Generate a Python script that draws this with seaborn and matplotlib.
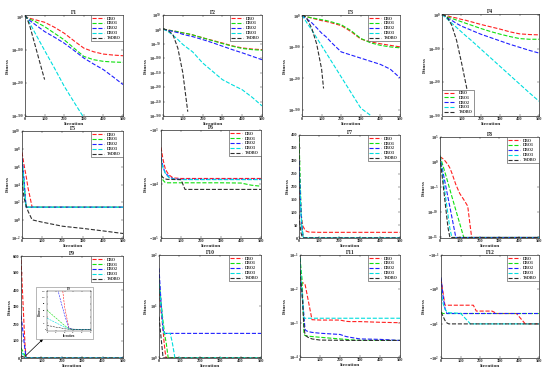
"""
Convergence curves of DBO variants on twelve benchmark functions (F1-F12).
Saves out.png (550x378).
"""

import numpy as np
import matplotlib
matplotlib.use("Agg")
import matplotlib.pyplot as plt
import seaborn as sns
from matplotlib.patches import Rectangle

W, H = 550, 378
ALGOS  = ["DBO", "DBO1", "DBO2", "DBO3", "TSDBO"]
COLORS = ["#ff2020", "#10e010", "#2020ff", "#00dede", "#303030"]
N = None

# ── Data ─────────────────────────────────────────────────────────────────────
F1_X     = [0, 10, 25, 50, 75, 100, 150, 200, 250, 300, 350, 400, 450, 500]
F1_DBO   = [1e4, 1e-2, 1e-5, 1e-9, 1e-13, 1e-17, 1e-32, 1e-50, 1e-73, 1e-95, 1e-106, 1e-113, 1e-116, 1e-118]
F1_DBO1  = [1e4, 1e-3, 1e-8, 1e-14, 1e-22, 1e-30, 1e-50, 1e-70, 1e-95, 1e-120, 1e-130, 1e-135, 1e-137, 1e-138]
F1_DBO2  = [1e4, 1e-4, 1e-12, 1e-23, 1e-34, 1e-45, 1e-62, 1e-80, 1e-102, 1e-125, 1e-143, 1e-160, 1e-182, 1e-205]
F1_DBO3  = [1e4, 1e-6, 1e-20, 1e-48, 1e-75, 1e-102, 1e-155, 1e-210, 1e-258, 1e-305, N, N, N, N]
F1_TSDBO = [1e4, 1e-5, 1e-29, 1e-83, 1e-137, 1e-190, N, N, N, N, N, N, N, N]

F2_X     = [0, 10, 25, 50, 75, 100, 125, 150, 200, 250, 300, 350, 400, 450, 500]
F2_DBO   = [1e2, 1e0, 1e-2, 1e-5, 1e-8, 1e-12, 1e-15, 1e-19, 1e-29, 1e-38, 1e-47, 1e-57, 1e-64, 1e-68, 1e-70]
F2_DBO1  = [1e2, 1e0, 1e-2, 1e-5, 1e-8, 1e-12, 1e-15, 1e-19, 1e-29, 1e-39, 1e-49, 1e-58, 1e-66, 1e-70, 1e-72]
F2_DBO2  = [1e2, 1e-1, 1e-3, 1e-7, 1e-11, 1e-17, 1e-21, 1e-25, 1e-35, 1e-46, 1e-58, 1e-70, 1e-81, 1e-93, 1e-105]
F2_DBO3  = [1e2, 1e-2, 1e-7, 1e-20, 1e-35, 1e-52, 1e-65, 1e-78, 1e-116, 1e-145, 1e-174, 1e-192, 1e-209, 1e-235, 1e-265]
F2_TSDBO = [1e2, 1e0, 1e-3, 1e-18, 1e-65, 1e-150, 1e-285, N, N, N, N, N, N, N, N]

F3_X     = [0, 10, 25, 50, 75, 100, 110, 125, 150, 200, 250, 300, 350, 400, 450, 500]
F3_DBO   = [1e3, 1e0, 1e-3, 1e-7, 1e-11, 1e-15, 1e-16, 1e-18, 1e-22, 1e-31, 1e-50, 1e-74, 1e-83, 1e-89, 1e-94, 1e-99]
F3_DBO1  = [1e3, 1e0, 1e-3, 1e-6, 1e-9, 1e-12, 1e-13, 1e-15, 1e-19, 1e-28, 1e-47, 1e-72, 1e-86, 1e-94, 1e-99, 1e-102]
F3_DBO2  = [1e3, 1e-3, 1e-10, 1e-22, 1e-38, 1e-55, 1e-60, 1e-68, 1e-85, 1e-115, 1e-125, 1e-135, 1e-145, 1e-155, 1e-170, 1e-198]
F3_DBO3  = [1e3, 1e-7, 1e-22, 1e-45, 1e-70, 1e-95, 1e-105, 1e-120, 1e-145, 1e-195, 1e-245, 1e-295, 1e-318, N, N, N]
F3_TSDBO = [1e3, 1e1, 1e-8, 1e-40, 1e-90, 1e-170, 1e-232, N, N, N, N, N, N, N, N, N]

F4_X     = [0, 25, 50, 75, 100, 125, 130, 150, 200, 250, 300, 350, 400, 450, 500]
F4_DBO   = [1e2, 1e-2, 1e-6, 1e-9, 1e-13, 1e-16, 1e-17, 1e-20, 1e-28, 1e-35, 1e-42, 1e-50, 1e-56, 1e-58, 1e-59]
F4_DBO1  = [1e2, 1e-5, 1e-10, 1e-15, 1e-20, 1e-25, 1e-26, 1e-30, 1e-40, 1e-49, 1e-57, 1e-64, 1e-70, 1e-72, 1e-72]
F4_DBO2  = [1e2, 1e-8, 1e-16, 1e-25, 1e-33, 1e-39, 1e-40, 1e-45, 1e-57, 1e-67, 1e-77, 1e-87, 1e-96, 1e-105, 1e-113]
F4_DBO3  = [1e2, 1e-11, 1e-24, 1e-37, 1e-50, 1e-63, 1e-65, 1e-75, 1e-101, 1e-127, 1e-153, 1e-179, 1e-205, 1e-231, 1e-256]
F4_TSDBO = [1e2, 1e-5, 1e-30, 1e-75, 1e-140, 1e-210, 1e-225, N, N, N, N, N, N, N, N]

F5_X     = [0, 10, 20, 30, 50, 75, 100, 200, 300, 400, 500]
F5_DBO   = [4e7, 1.6e6, 1e5, 4e3, 30, 28.9, 28.8, 28.7, 28.7, 28.6, 28.5]
F5_DBO1  = [3e6, 1e4, 29.5, 28.9, 28.9, 28.8, 28.8, 28.7, 28.7, 28.7, 28.6]
F5_DBO2  = [8e6, 5e4, 30, 28.9, 28.9, 28.9, 28.8, 28.8, 28.7, 28.7, 28.7]
F5_DBO3  = [5e6, 2e4, 30, 28.9, 28.9, 28.9, 28.8, 28.8, 28.7, 28.7, 28.7]
F5_TSDBO = [2.5e4, 3e2, 50, 10, 1.1, 0.8, 0.6, 0.21, 0.12, 0.063, 0.032]

F6_X     = [0, 10, 20, 30, 40, 60, 100, 120, 200, 300, 400, 450, 500]
F6_DBO   = [-2100, -3500, -5000, -6000, -6800, -7700, -7900, -7900, -7900, -7900, -7900, -7900, -7900]
F6_DBO1  = [-6450, -8500, -9300, -9500, -9500, -9500, -9500, -9500, -9500, -9500, -9600, -10500, -11000]
F6_DBO2  = [-3200, -4800, -6000, -6700, -7300, -8000, -8200, -8200, -8200, -8200, -8200, -8200, -8200]
F6_DBO3  = [-3400, -5000, -6200, -7000, -7600, -8100, -8300, -8300, -8300, -8300, -8300, -8300, -8300]
F6_TSDBO = [-6900, -7600, -8000, -8200, -8200, -8250, -8300, -12600, -12600, -12600, -12600, -12600, -12600]

F7_X     = [0, 5, 10, 15, 20, 25, 30, 40, 50, 100, 500]
F7_DBO   = [230, 160, 100, 60, 45, 38, 30, 25, 23, 22, 22]
F7_DBO1  = [390, 250, 120, 40, 10, 2, 1, 0.5, 0.4, 0.3, 0.2]
F7_DBO2  = [300, 200, 100, 40, 5, 1, 0.5, 0.4, 0.3, 0.2, 0.1]
F7_DBO3  = [260, 180, 90, 30, 5, 1, 0.5, 0.4, 0.3, 0.2, 0.1]
F7_TSDBO = [90, 50, 20, 6, 2, 0.5, 0.3, 0.2, 0.1, 0.1, 0.05]

F8_X     = [0, 10, 20, 30, 40, 50, 60, 80, 100, 120, 140, 150, 160, 500]
F8_DBO   = [12.6, 6.3, 3.2, 1.0, 0.32, 0.063, 6.3e-3, 3.2e-5, 5e-7, 3.2e-8, 1.6e-9, 1e-12, 8.88e-16, 8.88e-16]
F8_DBO1  = [20, 0.8, 0.04, 2e-3, 8e-5, 3.2e-6, 1.3e-7, 2.5e-10, 5e-13, 8.88e-16, 8.88e-16, 8.88e-16, 8.88e-16, 8.88e-16]
F8_DBO2  = [12.6, 0.1, 1e-3, 1e-5, 1e-7, 1e-9, 1e-11, 8.88e-16, 8.88e-16, 8.88e-16, 8.88e-16, 8.88e-16, 8.88e-16, 8.88e-16]
F8_DBO3  = [16, 0.02, 2.5e-5, 3.2e-8, 4e-11, 5e-14, 8.88e-16, 8.88e-16, 8.88e-16, 8.88e-16, 8.88e-16, 8.88e-16, 8.88e-16, 8.88e-16]
F8_TSDBO = [10, 3.2e-3, 1e-6, 3.2e-10, 1e-13, 8.88e-16, 8.88e-16, 8.88e-16, 8.88e-16, 8.88e-16, 8.88e-16, 8.88e-16, 8.88e-16, 8.88e-16]

F9_X     = [0, 5, 10, 15, 20, 25, 30, 40, 60, 100, 500]
F9_DBO   = [577, 450, 320, 190, 70, 3, 0.5, 0.2, 0.1, 0.05, 0]
F9_DBO1  = [60, 48, 36, 24, 12, 2, 0.5, 0.2, 0.1, 0.05, 0]
F9_DBO2  = [249, 200, 150, 95, 45, 3, 0.5, 0.2, 0.1, 0.05, 0]
F9_DBO3  = [35, 28, 21, 14, 7, 1, 0.5, 0.2, 0.1, 0.05, 0]
F9_TSDBO = [12, 10, 7, 5, 2, 0.5, 0.3, 0.2, 0.1, 0.05, 0]

F10_X     = [0, 10, 20, 25, 30, 35, 45, 55, 65, 78, 500]
F10_DBO   = [25, 8, 3.5, 2, 1.3, 0.998, 0.998, 0.998, 0.998, 0.998, 0.998]
F10_DBO1  = [35, 12, 5, 3.5, 2.5, 2, 0.998, 0.998, 0.998, 0.998, 0.998]
F10_DBO2  = [55, 12, 3.5, 2.982, 2.982, 2.982, 2.982, 2.982, 2.982, 2.982, 2.982]
F10_DBO3  = [27, 10, 4, 2.982, 2.982, 2.982, 2.982, 2.982, 2.0, 0.998, 0.998]
F10_TSDBO = [6.3, 2.5, 0.998, 0.998, 0.998, 0.998, 0.998, 0.998, 0.998, 0.998, 0.998]

F11_X     = [0, 10, 20, 25, 30, 40, 60, 100, 200, 230, 250, 300, 400, 500]
F11_DBO   = [1.6e-2, 1.5e-2, 1.5e-2, 1.4e-2, 1.0e-2, 5e-3, 1.25e-3, 1.22e-3, 1.22e-3, 1.12e-3, 1.1e-3, 1.1e-3, 1.05e-3, 1.02e-3]
F11_DBO1  = [8e-2, 2e-2, 4.6e-4, 4.3e-4, 4.2e-4, 4.1e-4, 4.0e-4, 3.8e-4, 3.4e-4, 3.3e-4, 3.2e-4, 3.1e-4, 3.08e-4, 3.07e-4]
F11_DBO2  = [1.6e-2, 8e-3, 1.5e-3, 6.5e-4, 6.0e-4, 5.6e-4, 5.3e-4, 5.0e-4, 4.6e-4, 4.0e-4, 3.8e-4, 3.4e-4, 3.3e-4, 3.07e-4]
F11_DBO3  = [8.4e-2, 7.4e-3, 1.38e-3, 1.38e-3, 1.38e-3, 1.38e-3, 1.38e-3, 1.38e-3, 1.38e-3, 1.38e-3, 1.38e-3, 1.38e-3, 1.38e-3, 1.38e-3]
F11_TSDBO = [3.4e-2, 8e-3, 8e-4, 4.5e-4, 4.2e-4, 3.8e-4, 3.4e-4, 3.15e-4, 3.1e-4, 3.08e-4, 3.08e-4, 3.07e-4, 3.07e-4, 3.07e-4]

F12_X     = [0, 10, 20, 30, 40, 100, 150, 165, 180, 260, 285, 385, 430, 500]
F12_DBO   = [-0.5, -1.2, -2.9, -2.9, -2.9, -2.9, -2.9, -2.9, -4.3, -4.3, -5.06, -5.06, -10.15, -10.15]
F12_DBO1  = [-4.6, -5.06, -5.06, -5.06, -5.06, -5.06, -5.06, -5.06, -5.06, -5.06, -5.06, -5.06, -5.06, -5.06]
F12_DBO2  = [-0.45, -1.5, -3.5, -5.06, -5.06, -5.06, -5.06, -5.06, -5.06, -5.06, -5.06, -5.06, -5.06, -5.06]
F12_DBO3  = [-1.1, -2.5, -3.8, -4.5, -4.8, -5.0, -10.15, -10.15, -10.15, -10.15, -10.15, -10.15, -10.15, -10.15]
F12_TSDBO = [-4.6, -6.0, -8.0, -9.5, -10.15, -10.15, -10.15, -10.15, -10.15, -10.15, -10.15, -10.15, -10.15, -10.15]

# panel: name, x, series, y scale, ylim, yticks, legend loc
PANELS = [
    ("F1", F1_X, [F1_DBO, F1_DBO1, F1_DBO2, F1_DBO3, F1_TSDBO], "log", (1e-300, 1e5), [1e0, 1e-100, 1e-200, 1e-300], "upper right"),
    ("F2", F2_X, [F2_DBO, F2_DBO1, F2_DBO2, F2_DBO3, F2_TSDBO], "log", (1e-300, 1e50),
     [1e50, 1e0, 1e-50, 1e-100, 1e-150, 1e-200, 1e-250, 1e-300], "upper right"),
    ("F3", F3_X, [F3_DBO, F3_DBO1, F3_DBO2, F3_DBO3, F3_TSDBO], "log", (1e-320, 1e3), [1e0, 1e-100, 1e-200, 1e-300], "upper right"),
    ("F4", F4_X, [F4_DBO, F4_DBO1, F4_DBO2, F4_DBO3, F4_TSDBO], "log", (1e-300, 1e3), [1e0, 1e-100, 1e-200, 1e-300], "lower left"),
    ("F5", F5_X, [F5_DBO, F5_DBO1, F5_DBO2, F5_DBO3, F5_TSDBO], "log", (1e-2, 1e10), [1e-2, 1e0, 1e2, 1e4, 1e6, 1e8, 1e10], "upper right"),
    ("F6", F6_X, [F6_DBO, F6_DBO1, F6_DBO2, F6_DBO3, F6_TSDBO], "symlog", (-1e5, -1e3), [-1e5, -1e4, -1e3], "upper right"),
    ("F7", F7_X, [F7_DBO, F7_DBO1, F7_DBO2, F7_DBO3, F7_TSDBO], "linear", (0, 400), list(range(0, 401, 50)), "upper right"),
    ("F8", F8_X, [F8_DBO, F8_DBO1, F8_DBO2, F8_DBO3, F8_TSDBO], "log", (7e-16, 1e5), [1e-15, 1e-10, 1e-5, 1e0, 1e5], "upper right"),
    ("F9", F9_X, [F9_DBO, F9_DBO1, F9_DBO2, F9_DBO3, F9_TSDBO], "linear", (0, 600), list(range(0, 601, 100)), "upper right"),
    ("F10", F10_X, [F10_DBO, F10_DBO1, F10_DBO2, F10_DBO3, F10_TSDBO], "log", (0.99, 1e2), [1e0, 1e1, 1e2], "upper right"),
    ("F11", F11_X, [F11_DBO, F11_DBO1, F11_DBO2, F11_DBO3, F11_TSDBO], "log", (1e-4, 1e-1), [1e-4, 1e-3, 1e-2, 1e-1], "upper right"),
    ("F12", F12_X, [F12_DBO, F12_DBO1, F12_DBO2, F12_DBO3, F12_TSDBO], "symlog", (-1e2, -1e-1), [-1e2, -1e1, -1e0, -1e-1], "upper right"),
]

# axes boxes in pixels: left, top, right, bottom
RECTS = [
    (25, 15, 123, 116), (163, 15, 262, 116), (302, 15, 400, 116), (442, 14, 539, 116),
    (22, 131, 123, 238), (161, 130, 261, 238), (299, 135, 400, 238), (440, 137, 539, 238),
    (21, 256, 123, 358), (159, 255, 261, 358), (300, 255, 400, 357), (441, 255, 539, 358),
]

sns.set_theme(style="ticks")
plt.rcParams.update({
    "font.family": ["Liberation Serif", "DejaVu Serif"],
    "font.weight": "bold",
    "axes.labelweight": "bold",
    "axes.titleweight": "bold",
    "mathtext.fontset": "custom",
    "mathtext.rm": "Liberation Serif:bold",
    "mathtext.bf": "Liberation Serif:bold",
    "mathtext.it": "Liberation Serif:italic:bold",
    "xtick.direction": "in",
    "ytick.direction": "in",
    "axes.edgecolor": "#262626",
    "axes.linewidth": 0.5,
})


def tick_label(t, scale):
    if scale == "log":
        return r"$10^{%d}$" % int(round(np.log10(t)))
    if scale == "symlog":
        return r"$-10^{%d}$" % int(round(np.log10(-t)))
    return f"{t:g}"


def draw_panel(ax, name, x, series, scale, ylim, yticks, loc, small=False):
    xs = np.array(x, dtype=float)
    for algo, col, ys in zip(ALGOS, COLORS, series):
        ys = np.array(ys, dtype=float)
        ok = ~np.isnan(ys)
        sns.lineplot(x=xs[ok], y=ys[ok], ax=ax, color=col, linestyle="--",
                     linewidth=0.4 if small else 0.8, estimator=None, sort=False,
                     label=None if small else algo)
    if scale == "symlog":
        ax.set_yscale("symlog", linthresh=1e-3)
    elif scale == "log":
        ax.set_yscale("log")
    ax.minorticks_off()
    ax.set_ylim(*ylim)
    ax.set_yticks(yticks)
    ax.set_yticklabels([tick_label(t, scale) for t in yticks])
    fs = 1.6 if small else 3.2
    ax.tick_params(labelsize=fs, length=1.5 if not small else 0.8, width=0.3, pad=1,
                   top=True, right=True)
    ax.set_title(name, fontsize=fs + 0.8, pad=0.8 if not small else 0.5)
    ax.set_xlabel("Iteration", fontsize=fs + 0.7, labelpad=0.3)
    ax.set_ylabel("Fitness", fontsize=fs + 0.7, labelpad=1 if not small else 0.3)
    for s in ax.spines.values():
        s.set_linewidth(0.3 if small else 0.5)
    if not small:
        ax.set_xlim(0, 500)
        ax.set_xticks(range(0, 501, 100))
        leg = ax.legend(loc=loc, fontsize=3.0, frameon=True, fancybox=False,
                        edgecolor="#404040", framealpha=1, borderaxespad=0.1,
                        handlelength=2.8, labelspacing=0.2, borderpad=0.3,
                        handletextpad=0.8)
        leg.get_frame().set_linewidth(0.4)


fig = plt.figure(figsize=(W / 100, H / 100), dpi=100)
axes = []
for (l, t, r, b), panel in zip(RECTS, PANELS):
    ax = fig.add_axes([l / W, 1 - b / H, (r - l) / W, (b - t) / H])
    draw_panel(ax, *panel)
    axes.append(ax)

# F9 zoom inset
frame = Rectangle((36 / W, 1 - 339 / H), 57 / W, 52 / H, transform=fig.transFigure,
                  facecolor="white", edgecolor="#808080", linewidth=0.4, zorder=2)
fig.patches.append(frame)
ax_in = fig.add_axes([47 / W, 1 - 331 / H, 44 / W, 40 / H], zorder=3)
draw_panel(ax_in, "F9", F9_X, [F9_DBO, F9_DBO1, F9_DBO2, F9_DBO3, F9_TSDBO],
           "linear", (-5, 120), [0, 20, 40, 60, 80, 100, 120], None, small=True)
ax_in.set_xlim(0, 50)
ax_in.set_xticks(range(0, 51, 10))

axes[8].annotate("", xy=(43 / W, 1 - 339 / H), xycoords="figure fraction",
                 xytext=(20, 10), textcoords="data",
                 arrowprops=dict(arrowstyle="-|>", color="black", lw=0.5,
                                 mutation_scale=4, shrinkA=0, shrinkB=0))

fig.savefig("out.png", dpi=100)
